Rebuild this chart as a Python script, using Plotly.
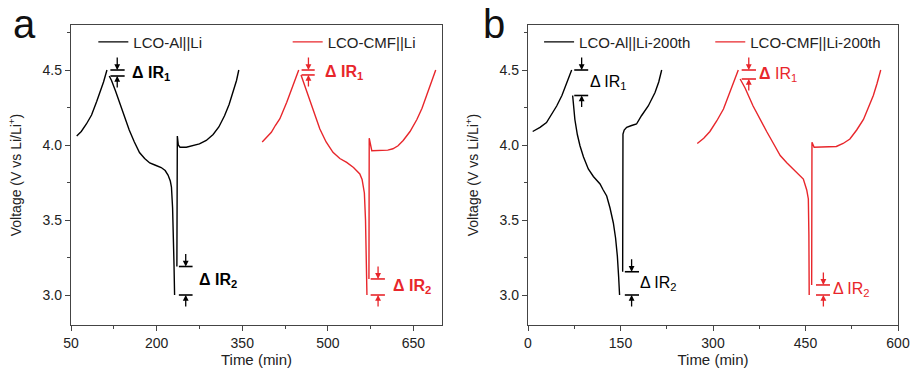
import plotly.graph_objects as go

# ---------------- data ----------------
# Panel a, LCO-Al||Li
a_al_ch1_t = [60, 68, 77, 86, 95, 101, 107, 113]
a_al_ch1_v = [4.06, 4.09, 4.14, 4.20, 4.29, 4.35, 4.42, 4.50]
a_al_dis_t = [117, 121, 128, 135, 143, 152, 161, 170, 179, 188, 198, 208, 215, 220, 224, 226, 228, 229.5, 230.5, 231.5]
a_al_dis_v = [4.46, 4.43, 4.36, 4.285, 4.19, 4.10, 4.02, 3.95, 3.91, 3.88, 3.865, 3.85, 3.83, 3.80, 3.76, 3.72, 3.58, 3.40, 3.20, 3.00]
a_al_ch2_t = [235.5, 235.5, 236.8, 236.3, 236.3, 238, 241, 252, 265, 275, 287, 299, 309, 319, 327, 334, 340, 344]
a_al_ch2_v = [3.19, 3.84, 3.88, 3.94, 4.06, 4.00, 3.985, 3.985, 3.995, 4.007, 4.03, 4.07, 4.12, 4.195, 4.27, 4.35, 4.43, 4.50]

# Panel a, LCO-CMF||Li
a_cmf_ch1_t = [385, 393, 401, 408, 416, 428, 439, 449]
a_cmf_ch1_v = [4.02, 4.05, 4.085, 4.13, 4.175, 4.285, 4.395, 4.50]
a_cmf_dis_t = [453, 460, 468, 477, 486, 497, 509, 521, 533, 545, 556, 560, 564, 566, 567.5, 568.5]
a_cmf_dis_v = [4.467, 4.39, 4.307, 4.20, 4.107, 4.02, 3.951, 3.91, 3.884, 3.85, 3.807, 3.77, 3.68, 3.50, 3.25, 3.00]
a_cmf_ch2_t = [572, 572, 572.5, 577, 590, 605, 614, 623, 632, 644, 656, 665, 673, 681, 689]
a_cmf_ch2_v = [3.107, 3.90, 4.045, 3.962, 3.962, 3.966, 3.975, 3.995, 4.03, 4.09, 4.17, 4.245, 4.33, 4.41, 4.50]

# Panel b, LCO-Al||Li-200th
b_al_ch1_t = [7.6, 19.5, 30, 38, 46.5, 55, 63, 70.8]
b_al_ch1_v = [4.09, 4.118, 4.15, 4.20, 4.26, 4.33, 4.41, 4.50]
b_al_dis_t = [72.4, 74, 76, 80, 84.3, 90, 97.8, 106, 116.8, 122, 127.6, 133, 138.4, 142, 144.9, 147, 148.5]
b_al_dis_v = [4.33, 4.25, 4.17, 4.07, 3.995, 3.92, 3.84, 3.79, 3.74, 3.70, 3.66, 3.58, 3.48, 3.38, 3.26, 3.12, 3.00]
b_al_ch2_t = [153.5, 153.5, 154, 156, 160, 168, 176, 184, 195, 206, 212, 216.8]
b_al_ch2_v = [3.155, 3.90, 4.073, 4.10, 4.118, 4.13, 4.14, 4.195, 4.26, 4.35, 4.42, 4.50]

# Panel b, LCO-CMF||Li-200th
b_cmf_ch1_t = [274.5, 285, 295, 306, 317, 329, 341]
b_cmf_ch1_v = [4.01, 4.045, 4.09, 4.16, 4.24, 4.37, 4.50]
b_cmf_dis_t = [344, 352, 365, 376, 387, 398, 409, 420, 430, 441, 446.5, 452, 454.6, 455.5, 456]
b_cmf_dis_v = [4.44, 4.38, 4.26, 4.17, 4.09, 4.01, 3.93, 3.88, 3.84, 3.79, 3.773, 3.70, 3.64, 3.40, 3.00]
b_cmf_ch2_t = [460, 460, 460.5, 464, 470, 485, 500, 511, 522, 533, 544, 552, 560, 566, 572]
b_cmf_ch2_v = [3.067, 3.80, 4.018, 3.985, 3.985, 3.985, 3.99, 4.01, 4.04, 4.10, 4.17, 4.25, 4.33, 4.41, 4.50]

series_names = ["LCO-Al||Li", "LCO-CMF||Li", "LCO-Al||Li-200th", "LCO-CMF||Li-200th"]

x_ticks_a = [50, 200, 350, 500, 650]
x_ticks_b = [0, 150, 300, 450, 600]
y_ticks = [3.0, 3.5, 4.0, 4.5]

BLACK = "#000000"
RED = "#e8262b"
AXIS = "#444444"
FONT = "Arial, Liberation Sans, sans-serif"

fig = go.Figure()

def add_series(ch1_t, ch1_v, dis_t, dis_v, ch2_t, ch2_v, name, color, xaxis, legend):
    t = list(ch1_t) + [None] + list(dis_t) + [None] + list(ch2_t)
    v = list(ch1_v) + [None] + list(dis_v) + [None] + list(ch2_v)
    fig.add_trace(go.Scatter(x=t, y=v, mode="lines", name=name, connectgaps=False,
                             line=dict(color=color, width=1.4), xaxis=xaxis, yaxis="y" if xaxis == "x" else "y2",
                             legend=legend))

add_series(a_al_ch1_t, a_al_ch1_v, a_al_dis_t, a_al_dis_v, a_al_ch2_t, a_al_ch2_v, series_names[0], BLACK, "x", "legend")
add_series(a_cmf_ch1_t, a_cmf_ch1_v, a_cmf_dis_t, a_cmf_dis_v, a_cmf_ch2_t, a_cmf_ch2_v, series_names[1], RED, "x", "legend2")
add_series(b_al_ch1_t, b_al_ch1_v, b_al_dis_t, b_al_dis_v, b_al_ch2_t, b_al_ch2_v, series_names[2], BLACK, "x2", "legend3")
add_series(b_cmf_ch1_t, b_cmf_ch1_v, b_cmf_dis_t, b_cmf_dis_v, b_cmf_ch2_t, b_cmf_ch2_v, series_names[3], RED, "x2", "legend4")

# ---------------- IR-drop brackets ----------------
# (xref, yref, color, label, bar start, bar end, arrow x, text x, upper V, lower V)
ir_marks = [
    ("x", "y", BLACK, "<b>Δ IR<sub>1</sub></b>", 119, 144, 131, 154, a_al_ch1_v[-1], a_al_dis_v[0]),
    ("x", "y", BLACK, "<b>Δ IR<sub>2</sub></b>", 239, 263, 251, 270, a_al_ch2_v[0], a_al_dis_v[-1]),
    ("x", "y", RED, "<b>Δ IR<sub>1</sub></b>", 454, 477, 466, 492, a_cmf_ch1_v[-1], a_cmf_dis_v[0]),
    ("x", "y", RED, "<b>Δ IR<sub>2</sub></b>", 575, 600, 588, 610, a_cmf_ch2_v[0], a_cmf_dis_v[-1]),
    ("x2", "y2", BLACK, "Δ IR<sub>1</sub>", 75, 97.6, 87, 97, b_al_ch1_v[-1], b_al_dis_v[0]),
    ("x2", "y2", BLACK, "Δ IR<sub>2</sub>", 157, 180, 168, 178, b_al_ch2_v[0], b_al_dis_v[-1]),
    ("x2", "y2", RED, "<b>Δ</b> IR<sub>1</sub>", 346.5, 369.7, 358, 372, b_cmf_ch1_v[-1], b_cmf_dis_v[0]),
    ("x2", "y2", RED, "Δ IR<sub>2</sub>", 467, 489.7, 479, 492, b_cmf_ch2_v[0], b_cmf_dis_v[-1]),
]

shapes = []
annotations = []
for xr, yr, col, label, x0, x1, xa, xt, vt, vb in ir_marks:
    for vv in (vt, vb):
        shapes.append(dict(type="line", xref=xr, yref=yr, x0=x0, x1=x1, y0=vv, y1=vv,
                           line=dict(color=col, width=1.6)))
    annotations.append(dict(xref=xr, yref=yr, x=xa, y=vt, ax=0, ay=-14, text="", showarrow=True,
                            arrowhead=2, arrowsize=0.9, arrowwidth=1.3, arrowcolor=col, standoff=0))
    annotations.append(dict(xref=xr, yref=yr, x=xa, y=vb, ax=0, ay=13, text="", showarrow=True,
                            arrowhead=2, arrowsize=0.9, arrowwidth=1.3, arrowcolor=col, standoff=0))
    annotations.append(dict(xref=xr, yref=yr, x=xt, y=(vt + vb) / 2, text=label, showarrow=False,
                            xanchor="left", yanchor="middle", font=dict(size=16, color=col, family=FONT)))

# panel letters
annotations.append(dict(xref="paper", yref="paper", x=-0.072, y=1.005, text="a", showarrow=False,
                        xanchor="left", yanchor="middle", font=dict(size=40, color="#111", family=FONT)))
annotations.append(dict(xref="paper", yref="paper", x=0.496, y=1.005, text="b", showarrow=False,
                        xanchor="left", yanchor="middle", font=dict(size=40, color="#111", family=FONT)))

def xaxis_cfg(domain, rng, ticks, anchor):
    return dict(domain=domain, range=rng, tickvals=ticks, ticktext=[str(t) for t in ticks],
                showline=True, linecolor=AXIS, linewidth=1.3, mirror=True,
                ticks="outside", ticklen=5, tickwidth=1.2, tickcolor=AXIS,
                minor=dict(ticks="outside", ticklen=3, tickwidth=1.2, tickcolor=AXIS,
                           dtick=(ticks[1] - ticks[0]) / 2, tick0=ticks[0]),
                showgrid=False, zeroline=False, anchor=anchor, automargin=False,
                tickfont=dict(size=14, color="#222", family=FONT),
                title=dict(text="Time (min)", font=dict(size=15, color="#222", family=FONT), standoff=2))

def yaxis_cfg(anchor):
    return dict(range=[2.8, 4.8], tickvals=y_ticks, ticktext=["%.1f" % v for v in y_ticks],
                showline=True, linecolor=AXIS, linewidth=1.3, mirror=True,
                ticks="outside", ticklen=5, tickwidth=1.2, tickcolor=AXIS,
                minor=dict(ticks="outside", ticklen=3, tickwidth=1.2, tickcolor=AXIS, dtick=0.25, tick0=3.0),
                showgrid=False, zeroline=False, anchor=anchor, automargin=False,
                tickfont=dict(size=14, color="#222", family=FONT),
                title=dict(text="Voltage (V vs Li/Li<sup>+</sup>)", font=dict(size=14, color="#222", family=FONT),
                           standoff=17))

def legend_cfg(x):
    return dict(x=x, y=0.943, xanchor="left", yanchor="middle", bgcolor="rgba(0,0,0,0)",
                borderwidth=0, itemwidth=30, font=dict(size=15, color="#222", family=FONT),
                tracegroupgap=0)

fig.update_layout(
    width=916, height=376,
    margin=dict(l=71, r=18, t=25, b=51, autoexpand=False),
    paper_bgcolor="white", plot_bgcolor="white",
    font=dict(family=FONT),
    xaxis=xaxis_cfg([0, 0.4486], [50, 700], x_ticks_a, "y"),
    yaxis=yaxis_cfg("x"),
    xaxis2=xaxis_cfg([0.5526, 1], [0, 600], x_ticks_b, "y2"),
    yaxis2=yaxis_cfg("x2"),
    legend=legend_cfg(0.027),
    legend2=legend_cfg(0.262),
    legend3=legend_cfg(0.566),
    legend4=legend_cfg(0.773),
    shapes=shapes,
    annotations=annotations,
    showlegend=True,
)

fig.write_html("out.html", config={"displayModeBar": False},
               post_script="document.body.style.margin='0';document.body.style.overflow='hidden';")
